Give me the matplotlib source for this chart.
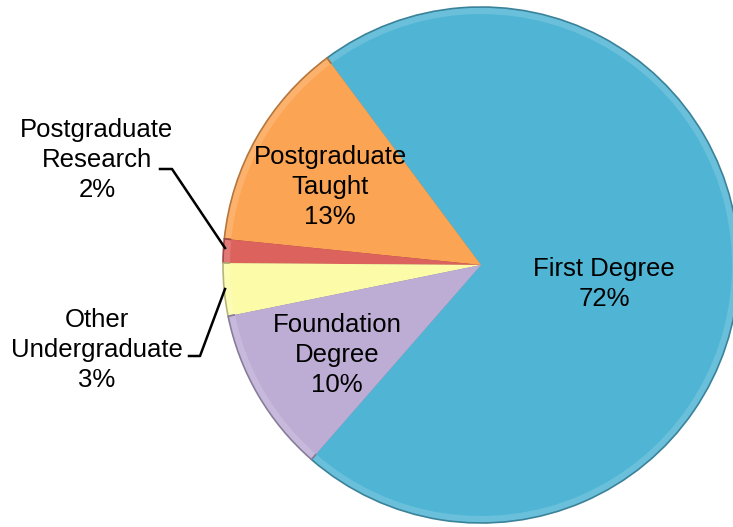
import matplotlib.pyplot as plt
from matplotlib.colors import to_rgb

plt.rcParams["font.family"] = ["Liberation Sans", "DejaVu Sans"]

# Slice data, in drawing order (counter-clockwise)
categories = ["First Degree", "Postgraduate Taught", "Postgraduate Research",
              "Other Undergraduate", "Foundation Degree"]
shares = [71.6, 13.2, 1.5, 3.3, 10.4]
percent_labels = ["72%", "13%", "2%", "3%", "10%"]
slice_colors = ["#50B5D4", "#FBA453", "#DC625E", "#FBFBA8", "#BDADD5"]

W, H = 733, 527
fig = plt.figure(figsize=(W / 100, H / 100), dpi=100)
ax = fig.add_axes([0, 0, 1, 1])


def shade(c, f):
    r, g, b = to_rgb(c)
    if f <= 1:
        return (r * f, g * f, b * f)
    t = f - 1
    return (r + (1 - r) * t, g + (1 - g) * t, b + (1 - b) * t)


cx, cy, R = 481, 262, 258
start = -131.1

# outer rim, a touch lighter, to hint at the bevel
outer, _ = ax.pie(
    shares, colors=[shade(c, 1.15) for c in slice_colors], startangle=start,
    center=(cx, cy), radius=R, frame=True, wedgeprops=dict(linewidth=1.2),
)
for w, c in zip(outer, slice_colors):
    w.set_edgecolor(shade(c, 0.72))

inner, _ = ax.pie(
    shares, colors=slice_colors, startangle=start,
    center=(cx, cy), radius=R - 7, frame=True, wedgeprops=dict(linewidth=0),
)

ax.set_xlim(0, W)
ax.set_ylim(0, H)
ax.set_aspect("auto")
ax.axis("off")

fs = 18.5
ls = 1.3


def px(x, y):
    return x, H - y


# labels inside slices
ax.text(*px(604, 284), f"{categories[0]}\n{percent_labels[0]}", ha="center",
        va="center", fontsize=fs, linespacing=ls)
ax.text(*px(330, 187), f"Postgraduate\nTaught\n{percent_labels[1]}", ha="center",
        va="center", fontsize=fs, linespacing=ls)
ax.text(*px(337, 355), f"Foundation\nDegree\n{percent_labels[4]}", ha="center",
        va="center", fontsize=fs, linespacing=ls)

# outside labels with leader lines
ax.text(*px(97, 160), f"Postgraduate\nResearch\n{percent_labels[2]}", ha="center",
        va="center", fontsize=fs, linespacing=ls)
ax.plot(*zip(px(160, 169), px(172, 169), px(225, 248)), color="black", lw=1.8)

ax.text(*px(97, 350), f"Other\nUndergraduate\n{percent_labels[3]}", ha="center",
        va="center", fontsize=fs, linespacing=ls)
ax.plot(*zip(px(189, 356), px(200, 356), px(225, 289)), color="black", lw=1.8)

fig.savefig("out.png", dpi=100)
